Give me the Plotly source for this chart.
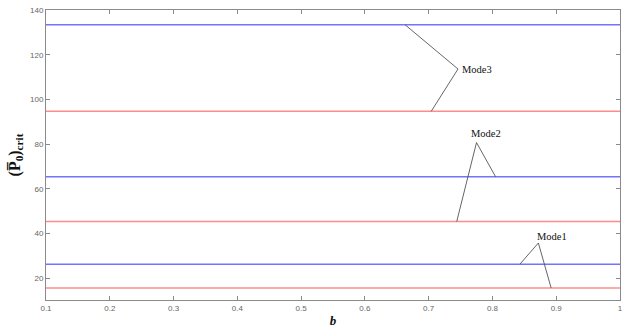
import plotly.graph_objects as go

# Critical load levels for each buckling mode (constant over b)
b_range = [0.1, 1.0]
modes = ["Mode1", "Mode2", "Mode3"]
red_levels = [15.7, 45.4, 94.7]
blue_levels = [26.3, 65.4, 133.4]

# Vertex of the leader lines, and leader ends on blue / red lines
label_x = [0.872, 0.775, 0.746]
label_y = [35.8, 80.7, 113.6]
blue_end_x = [0.843, 0.805, 0.663]
red_end_x = [0.892, 0.744, 0.704]

# Text placement of each mode label (left edge, vertical centre)
text_x = [0.866, 0.764, 0.749]
text_y = [38.6, 84.6, 113.2]

x_ticks = [0.1, 0.2, 0.3, 0.4, 0.5, 0.6, 0.7, 0.8, 0.9, 1.0]
x_tick_text = ["0.1", "0.2", "0.3", "0.4", "0.5", "0.6", "0.7", "0.8", "0.9", "1"]
y_ticks = [20, 40, 60, 80, 100, 120, 140]

RED = "rgba(255,120,120,0.85)"
BLUE = "rgba(90,90,255,0.85)"

fig = go.Figure()
for r, bl in zip(red_levels, blue_levels):
    fig.add_trace(go.Scatter(x=b_range, y=[r, r], mode="lines",
                             line=dict(color=RED, width=1.6), hoverinfo="skip"))
    fig.add_trace(go.Scatter(x=b_range, y=[bl, bl], mode="lines",
                             line=dict(color=BLUE, width=1.4), hoverinfo="skip"))

for i, name in enumerate(modes):
    fig.add_trace(go.Scatter(
        x=[blue_end_x[i], label_x[i], red_end_x[i]],
        y=[blue_levels[i], label_y[i], red_levels[i]],
        mode="lines", line=dict(color="#555555", width=0.9), hoverinfo="skip"))
    fig.add_annotation(x=text_x[i], y=text_y[i], text=name, showarrow=False,
                       xanchor="left", yanchor="middle",
                       font=dict(family="Liberation Serif", size=10.5, color="#111111"))

axis_common = dict(showline=True, linecolor="#8a8a8a", linewidth=1,
                   mirror="ticks", ticks="inside", ticklen=4, tickcolor="#8a8a8a",
                   showgrid=False, zeroline=False,
                   tickfont=dict(family="Liberation Sans", size=8, color="#666666"))

fig.update_layout(
    width=629, height=332,
    margin=dict(l=46, r=6, t=8, b=29),
    paper_bgcolor="white", plot_bgcolor="white",
    showlegend=False,
    xaxis=dict(range=[0.1, 1.0], tickvals=x_ticks, ticktext=x_tick_text,
               title=dict(text="<b><i>b</i></b>", standoff=4,
                          font=dict(family="Liberation Serif", size=13, color="#111111")),
               **axis_common),
    yaxis=dict(range=[10.3, 140], tickvals=y_ticks,
               title=dict(text="<b>(P\u0305<sub>0</sub>)<sub>crit</sub></b>", standoff=5,
                          font=dict(family="Liberation Serif", size=16, color="#111111")),
               **axis_common),
)

fig.write_html("out.html")
